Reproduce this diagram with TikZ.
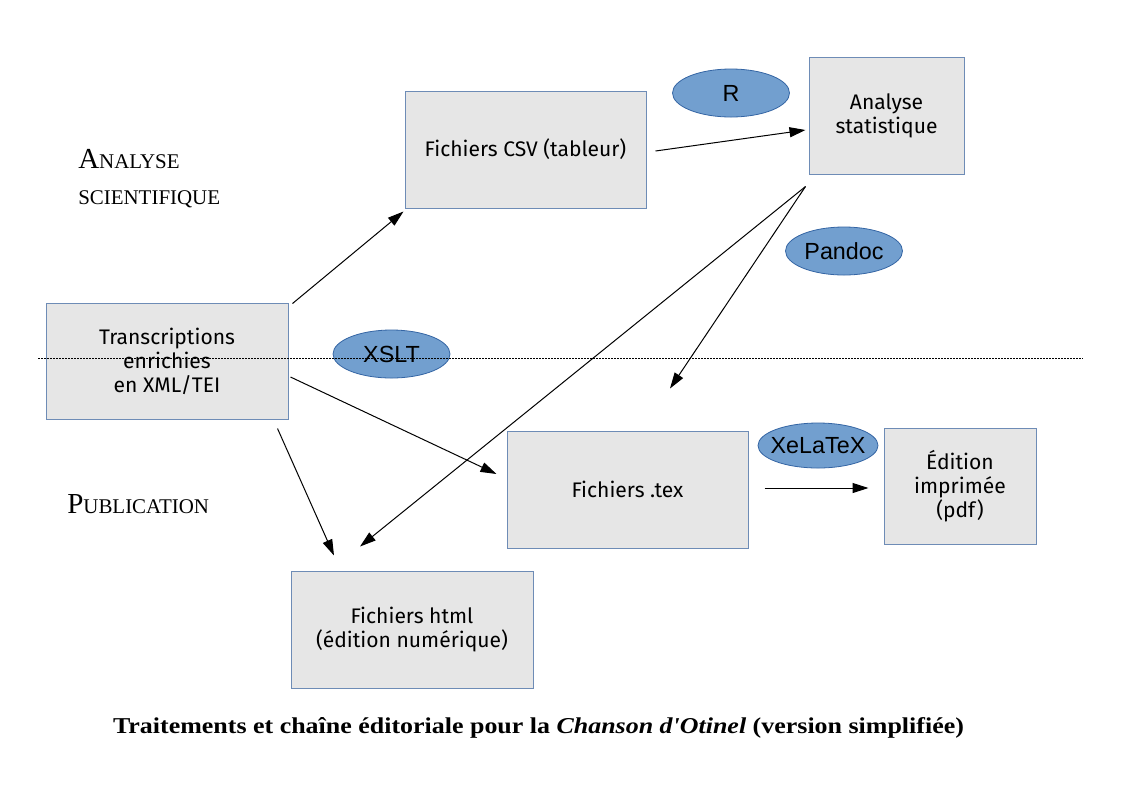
\documentclass[tikz,border=0pt]{standalone}
\usepackage{graphicx}
\usepackage{fontspec}
\setmainfont{Liberation Serif}
\newfontfamily\capfont{Liberation Serif}
\newfontfamily\boxfont{Fira Sans}
\newfontfamily\ellfont{Liberation Sans}
\usetikzlibrary{arrows.meta,calc,shapes.geometric}
\definecolor{boxfill}{RGB}{230,230,230}
\definecolor{boxline}{RGB}{110,140,182}
\definecolor{ellfill}{RGB}{114,159,207}
\definecolor{ellline}{RGB}{52,101,164}
\tikzset{
  stepbox/.style={draw=boxline, fill=boxfill, line width=0.75pt, inner sep=0pt,
    align=center, font=\boxfont\fontsize{15.8}{18}\selectfont},
  tool/.style={ellipse, draw=ellline, fill=ellfill, line width=0.6pt, inner sep=0pt,
    minimum width={117*0.75pt}, minimum height={48*0.75pt},
    font=\ellfont\fontsize{17.5}{17.5}\selectfont},
  flow/.style={draw=black, line width=0.75pt, -{Triangle[length=12pt,width=7.5pt]}},
  sectlabel/.style={anchor=base west, inner sep=0pt}
}
\newcommand{\mybigcap}[1]{{\fontsize{21.75}{22}\selectfont #1}}
\newcommand{\mysmallcap}[1]{{\fontsize{15.7}{16}\selectfont #1}}
\begin{document}
\begin{tikzpicture}[x=0.75pt,y=-0.75pt]
\path[use as bounding box, fill=white] (0,0) rectangle (1123,794);

% boxes
\node[stepbox, minimum width={242*0.75pt}, minimum height={116*0.75pt}] (trans) at (167,361) {Transcriptions\\enrichies\\en XML/TEI};
\node[stepbox, minimum width={241*0.75pt}, minimum height={117*0.75pt}] (csv) at (525.5,149.5) {Fichiers CSV (tableur)};
\node[stepbox, minimum width={155*0.75pt}, minimum height={117*0.75pt}] (stat) at (886.5,115.5) {Analyse\\statistique};
\node[stepbox, minimum width={241*0.75pt}, minimum height={117*0.75pt}] (tex) at (627.5,489.5) {Fichiers .tex};
\node[stepbox, minimum width={152*0.75pt}, minimum height={116*0.75pt}] (pdf) at (960,486) {Édition\\imprimée\\(pdf)};
\node[stepbox, minimum width={242*0.75pt}, minimum height={117*0.75pt}] (html) at (412,629.5) {Fichiers html\\(édition numérique)};

% tools
\node[tool] (r) at (731,93) {R};
\node[tool] (pandoc) at (844,251) {Pandoc};
\node[tool] (xslt) at (391.5,354) {XSLT};
\node[tool, minimum width={120*0.75pt}, minimum height={45*0.75pt}] (xelatex) at (818,445.5) {\makebox[0pt]{XeLaTeX}};

% separation line
\coordinate (sepL) at (38,358.5);
\coordinate (sepR) at (1083,358.5);
\draw[line width=0.6pt, dash pattern=on 1.5pt off 0.75pt] (sepL) -- (sepR);

% section labels
\node[sectlabel] (lab1) at (78,168) {\mybigcap{A}\mysmallcap{NALYSE}};
\node[sectlabel] (lab2) at (78,204) {\mysmallcap{SCIENTIFIQUE}};
\node[sectlabel] (lab3) at (67,513) {\mybigcap{P}\mysmallcap{UBLICATION}};

% connectors
\draw[flow] ($(trans.north east)+(4,1)$) -- ($(csv.south west)+(-1,3)$);
\draw[flow] ($(csv.east)+(9,1.5)$) -- ($(stat.west)+(-3,14.5)$);
\coordinate (texin) at ($(tex.north)+(42.5,-42)$);
\draw[flow] ($(stat.south west)+(-3,12)$) -- (texin);
\draw[flow] ($(stat.south west)+(-3,12)$) -- ($(html.north)+(-52,-24)$);
\draw[flow] ($(trans.east)+(2,16)$) -- ($(tex.west)+(-10,-15.5)$);
\draw[flow] ($(trans.south east)+(-11,9)$) -- ($(html.north)+(-78,-15)$);
\draw[flow] ($(tex.east)+(16,-1.5)$) -- ($(pdf.west)+(-15,2)$);

% caption
\node[inner sep=0pt] (caption) at (538.5,728)
  {\scalebox{1.145}[1]{\capfont\bfseries\fontsize{17}{18}\selectfont Traitements et chaîne éditoriale pour la \textit{Chanson d'Otinel} (version simplifiée)}};
\end{tikzpicture}
\end{document}
